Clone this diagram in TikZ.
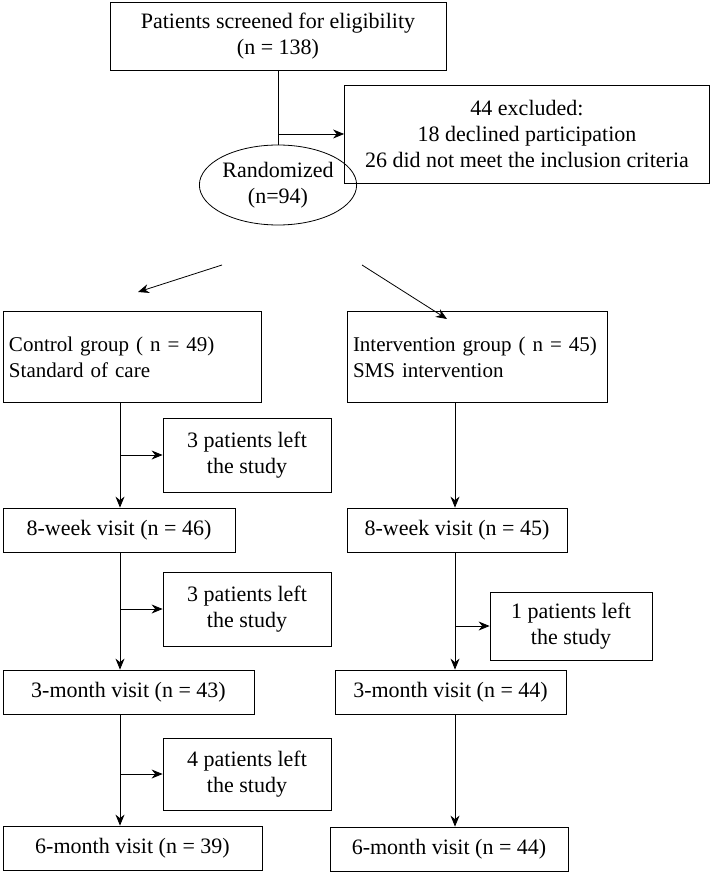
\documentclass[tikz,border=0pt]{standalone}
\usepackage{fontspec}
\setmainfont{Liberation Serif}
\usetikzlibrary{arrows.meta,shapes.geometric}

\tikzset{
  box/.style={draw, thick, inner sep=2pt, align=center, font=\fontsize{22}{26}\selectfont},
  lbox/.style={box, align=left, inner xsep=6pt, font=\fontsize{21}{26}\selectfont},
  arr/.style={thick, -{Stealth[length=11pt,width=9pt]}},
  ln/.style={thick}
}

\begin{document}
\begin{tikzpicture}[x=1pt,y=-1pt]
    \useasboundingbox (0,0) rectangle (714,874);

    \node[box, minimum width=336pt, minimum height=68pt] (screen) at (278,36) {Patients screened for eligibility\\(n = 138)};
    \node[box, minimum width=365pt, minimum height=98pt] (excl) at (527,134) {44 excluded:\\18 declined participation\\26 did not meet the inclusion criteria};
    \node[box, ellipse, inner sep=0pt, minimum width=148pt, minimum height=80pt] (rand) at (278,185) {Randomized\\(n=94)};

    \draw[ln] (screen.south) -- (rand.north); % screened - randomized
    \coordinate (b0) at (278,134);
    \draw[arr] (b0) -- (excl.west);

    \node[lbox, text width=246pt, minimum height=91pt] (ctrl) at (132,357) {Control group ( n = 49)\\Standard of care};
    \node[lbox, text width=248pt, minimum height=91pt] (intv) at (477,357) {Intervention group ( n = 45)\\SMS intervention};

    \coordinate (r1) at (222,265);
    \coordinate (r2) at (138,292);
    \coordinate (r3) at (362,265);
    \coordinate (r4) at (447,319);
    \draw[arr] (r1) -- (r2);
    \draw[arr] (r3) -- (r4);

    % control arm
    \node[box, minimum width=232pt, minimum height=44pt] (c8) at (119,530) {8-week visit (n = 46)};
    \node[box, minimum width=251pt, minimum height=44pt] (c3) at (128.5,692) {3-month visit (n = 43)};
    \node[box, minimum width=259pt, minimum height=44pt] (c6) at (132.5,848) {6-month visit (n = 39)};
    \node[box, minimum width=168pt, minimum height=74pt] (cl1) at (247,455) {3 patients left\\the study};
    \node[box, minimum width=168pt, minimum height=74pt] (cl2) at (247,609) {3 patients left\\the study};
    \node[box, minimum width=168pt, minimum height=72pt] (cl3) at (247,774) {4 patients left\\the study};

    \coordinate (ct0) at (120,403);
    \coordinate (ct1) at (120,552);
    \coordinate (ct2) at (120,714);
    \draw[arr] (ct0) -- (ct0 |- c8.north);
    \draw[arr] (ct1) -- (ct1 |- c3.north);
    \draw[arr] (ct2) -- (ct2 |- c6.north);
    \draw[arr] (ct0 |- cl1.west) -- (cl1.west);
    \draw[arr] (ct1 |- cl2.west) -- (cl2.west);
    \draw[arr] (ct2 |- cl3.west) -- (cl3.west);

    % intervention arm
    \node[box, minimum width=220pt, minimum height=44pt] (i8) at (457,530) {8-week visit (n = 45)};
    \node[box, minimum width=231pt, minimum height=44pt] (i3) at (450.5,692) {3-month visit (n = 44)};
    \node[box, minimum width=238pt, minimum height=44pt] (i6) at (449,849) {6-month visit (n = 44)};
    \node[box, minimum width=162pt, minimum height=68pt] (il2) at (571,626) {1 patients left\\the study};

    \coordinate (it0) at (455,403);
    \coordinate (it1) at (455,552);
    \coordinate (it2) at (455,714);
    \draw[arr] (it0) -- (it0 |- i8.north);
    \draw[arr] (it1) -- (it1 |- i3.north);
    \draw[arr] (it2) -- (it2 |- i6.north);
    \draw[arr] (it1 |- il2.west) -- (il2.west);
\end{tikzpicture}
\end{document}
